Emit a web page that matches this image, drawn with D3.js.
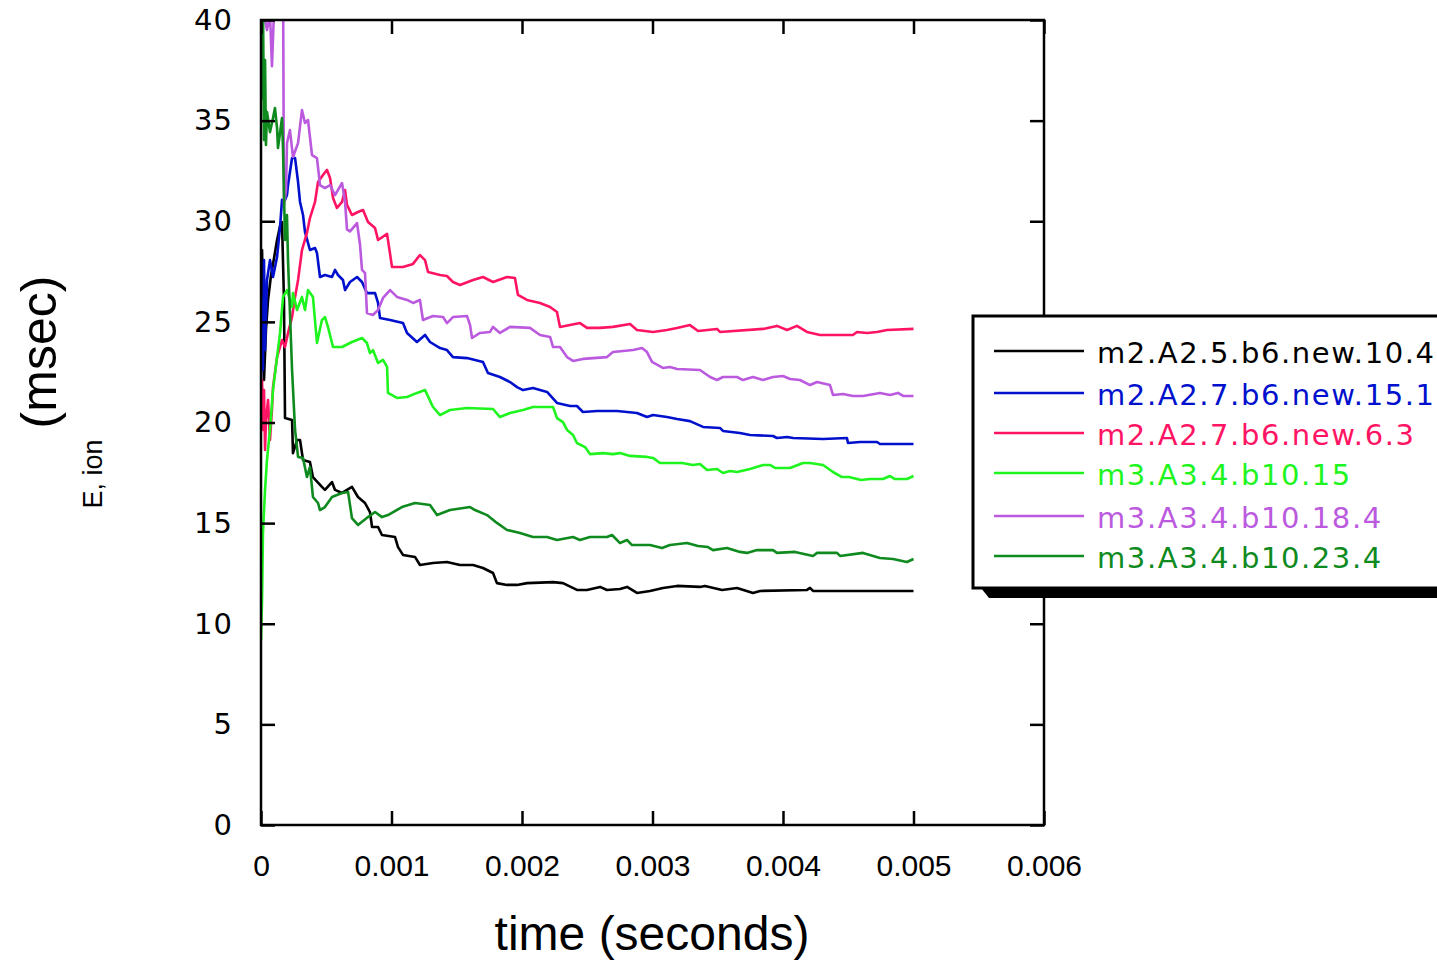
<!DOCTYPE html>
<html>
<head>
<meta charset="utf-8" />
<title>tau E, ion vs time</title>
<script src="https://cdn.jsdelivr.net/npm/d3@7"></script>
<style>
body { margin: 0; background: #fff; }
svg { display: block; }
</style>
</head>
<body>
<svg id="chart" width="1437" height="960"></svg>
<script>
// series labels and colours (legend order)
const seriesNames = ["m2.A2.5.b6.new.10.4", "m2.A2.7.b6.new.15.1", "m2.A2.7.b6.new.6.3",
	"m3.A3.4.b10.15", "m3.A3.4.b10.18.4", "m3.A3.4.b10.23.4"];
const seriesColors = ["#000000", "#0010cc", "#ff1464", "#1ef41e", "#bb5ade", "#0e8a1e"];

// x ticks are in ms here, shown as seconds
const xTicks = [0, 1, 2, 3, 4, 5, 6];
const yTicks = [0, 5, 10, 15, 20, 25, 30, 35, 40];

// [time (ms), tau (msec)]
const dataBlack = [[0,24.60],[0.008,28.57],[0.015,26.09],[0.023,22.11],[0.038,24.60],[0.054,26.09],[0.077,27.33],[0.100,28.17],[0.123,29.07],[0.146,29.76],[0.161,29.96],[0.176,26.09],[0.184,20.22],[0.238,20.12],[0.245,18.48],[0.276,19.13],[0.299,19.13],[0.322,18.14],[0.375,18.04],[0.398,17.29],[0.467,16.80],[0.490,16.65],[0.544,17.04],[0.567,16.65],[0.621,16.50],[0.697,16.80],[0.743,16.30],[0.797,16.00],[0.835,15.55],[0.851,14.81],[0.897,14.81],[0.927,14.41],[1.027,14.31],[1.050,13.81],[1.088,13.42],[1.180,13.32],[1.218,12.92],[1.318,13.02],[1.425,13.07],[1.525,12.92],[1.625,12.92],[1.701,12.77],[1.778,12.52],[1.808,12.02],[1.885,11.93],[1.962,11.93],[2.038,12.02],[2.238,12.07],[2.314,12.02],[2.421,11.68],[2.498,11.68],[2.598,11.83],[2.651,11.68],[2.751,11.73],[2.805,11.83],[2.881,11.53],[2.981,11.63],[3.080,11.78],[3.188,11.88],[3.364,11.83],[3.402,11.88],[3.533,11.68],[3.648,11.78],[3.770,11.53],[3.824,11.63],[4.184,11.68],[4.207,11.78],[4.230,11.63],[5.0,11.63]];

const dataBlue = [[0,22.11],[0.008,26.09],[0.015,22.61],[0.023,28.07],[0.031,23.60],[0.046,27.08],[0.069,28.07],[0.092,27.23],[0.123,28.22],[0.146,29.71],[0.161,31.06],[0.184,31.06],[0.199,31.30],[0.207,31.80],[0.238,33.14],[0.261,33.14],[0.284,31.95],[0.299,30.96],[0.322,30.31],[0.337,29.47],[0.375,28.57],[0.414,28.67],[0.429,28.42],[0.452,27.23],[0.490,27.33],[0.544,27.23],[0.567,27.58],[0.590,27.33],[0.628,27.08],[0.644,26.58],[0.682,26.98],[0.736,27.23],[0.774,26.98],[0.812,26.43],[0.874,26.43],[0.897,25.94],[0.912,25.19],[0.989,25.09],[1.088,24.94],[1.119,24.45],[1.195,24.00],[1.257,24.35],[1.295,24.00],[1.372,23.70],[1.425,23.60],[1.471,23.25],[1.579,23.20],[1.701,23.01],[1.739,22.46],[1.831,22.26],[1.908,22.01],[1.962,21.76],[2.008,21.61],[2.084,21.71],[2.192,21.52],[2.268,20.97],[2.368,20.82],[2.421,20.82],[2.467,20.52],[2.575,20.57],[2.728,20.57],[2.881,20.47],[2.958,20.27],[3.004,20.37],[3.111,20.27],[3.188,20.17],[3.287,20.07],[3.387,19.78],[3.517,19.73],[3.540,19.58],[3.670,19.48],[3.747,19.38],[3.923,19.33],[3.954,19.23],[4.031,19.28],[4.077,19.23],[4.307,19.18],[4.490,19.23],[4.498,18.98],[4.590,19.03],[4.720,19.03],[4.743,18.93],[5.0,18.93]];

const dataRed = [[0,21.12],[0.008,22.11],[0.015,19.63],[0.023,21.61],[0.031,18.63],[0.038,20.12],[0.054,21.12],[0.069,19.13],[0.084,20.62],[0.092,21.76],[0.123,23.25],[0.161,24.10],[0.184,23.75],[0.207,24.45],[0.238,25.24],[0.261,26.24],[0.284,27.08],[0.314,28.57],[0.352,29.42],[0.375,30.16],[0.414,30.96],[0.437,31.95],[0.475,32.30],[0.506,32.55],[0.529,32.15],[0.552,31.16],[0.582,30.66],[0.621,30.96],[0.644,31.55],[0.659,30.81],[0.697,30.31],[0.743,30.46],[0.782,30.56],[0.820,29.96],[0.874,29.66],[0.897,29.07],[0.966,29.37],[1.004,27.73],[1.088,27.73],[1.165,27.88],[1.218,28.32],[1.257,28.07],[1.280,27.48],[1.372,27.33],[1.425,27.28],[1.471,26.98],[1.525,26.83],[1.625,27.08],[1.701,27.23],[1.778,26.98],[1.885,27.23],[1.946,27.18],[1.969,26.34],[2.038,26.09],[2.138,25.94],[2.215,25.74],[2.268,25.49],[2.291,24.75],[2.444,24.94],[2.498,24.70],[2.598,24.70],[2.697,24.75],[2.828,24.89],[2.881,24.60],[3.004,24.50],[3.111,24.60],[3.188,24.70],[3.287,24.84],[3.349,24.55],[3.494,24.65],[3.517,24.50],[3.847,24.65],[3.954,24.80],[4.031,24.60],[4.107,24.80],[4.184,24.50],[4.284,24.35],[4.536,24.35],[4.567,24.50],[4.644,24.45],[4.720,24.50],[4.797,24.60],[5.0,24.65]];

const dataLime = [[0,9.19],[0.008,11.18],[0.015,14.51],[0.031,16.65],[0.046,18.14],[0.069,19.63],[0.092,21.61],[0.123,23.25],[0.146,24.45],[0.169,26.24],[0.199,26.58],[0.238,25.74],[0.245,26.43],[0.276,25.59],[0.314,26.24],[0.337,25.59],[0.360,26.58],[0.398,26.24],[0.429,23.95],[0.467,25.09],[0.490,25.24],[0.513,24.75],[0.552,23.75],[0.621,23.75],[0.697,24.00],[0.774,24.20],[0.812,23.95],[0.835,23.45],[0.858,23.60],[0.897,22.96],[0.935,23.11],[0.966,22.76],[0.973,21.47],[1.042,21.22],[1.119,21.27],[1.195,21.47],[1.257,21.61],[1.318,20.77],[1.372,20.37],[1.448,20.62],[1.579,20.72],[1.778,20.67],[1.831,20.27],[1.908,20.47],[2.008,20.62],[2.084,20.77],[2.238,20.77],[2.268,20.22],[2.314,20.02],[2.345,19.63],[2.391,19.38],[2.421,18.98],[2.483,18.78],[2.521,18.43],[2.621,18.48],[2.697,18.43],[2.751,18.48],[2.828,18.34],[2.958,18.29],[3.004,18.24],[3.057,17.99],[3.226,17.99],[3.310,17.89],[3.364,17.94],[3.418,17.64],[3.494,17.69],[3.540,17.49],[3.594,17.59],[3.648,17.54],[3.747,17.69],[3.847,17.89],[3.900,17.89],[3.939,17.74],[4.054,17.74],[4.153,17.99],[4.207,17.99],[4.307,17.89],[4.383,17.54],[4.452,17.29],[4.506,17.29],[4.598,17.14],[4.667,17.19],[4.766,17.19],[4.820,17.34],[4.858,17.19],[4.950,17.19],[5.0,17.34]];

const dataPurple = [[0,42],[0.031,40],[0.046,39.5],[0.069,40.3],[0.084,37.7],[0.100,40.5],[0.169,42],[0.176,30.81],[0.192,31.55],[0.199,33.89],[0.222,34.53],[0.245,33.19],[0.284,33.89],[0.314,35.53],[0.337,34.88],[0.360,35.03],[0.391,33.29],[0.429,33.14],[0.452,31.80],[0.490,31.65],[0.529,31.80],[0.567,31.30],[0.621,31.90],[0.644,30.96],[0.659,29.60],[0.682,29.50],[0.736,29.91],[0.759,28.82],[0.774,27.58],[0.797,27.43],[0.812,25.44],[0.858,25.34],[0.897,25.59],[0.935,26.19],[0.989,26.58],[1.042,26.24],[1.119,26.09],[1.165,25.94],[1.218,26.09],[1.241,25.09],[1.318,25.29],[1.395,25.24],[1.425,24.94],[1.471,25.24],[1.579,25.29],[1.602,24.84],[1.617,24.20],[1.678,24.45],[1.755,24.50],[1.778,24.75],[1.831,24.45],[1.908,24.75],[2.061,24.70],[2.138,24.35],[2.215,24.25],[2.238,23.75],[2.291,23.75],[2.345,23.25],[2.391,23.06],[2.467,23.16],[2.651,23.25],[2.697,23.50],[2.851,23.60],[2.920,23.70],[2.958,23.50],[2.996,23.01],[3.080,22.71],[3.134,22.76],[3.188,22.66],[3.364,22.61],[3.441,22.26],[3.494,22.11],[3.540,22.26],[3.648,22.26],[3.693,22.11],[3.770,22.26],[3.847,22.11],[3.923,22.26],[4.000,22.31],[4.054,22.16],[4.130,22.11],[4.207,21.86],[4.261,22.01],[4.360,21.86],[4.383,21.37],[4.460,21.42],[4.536,21.32],[4.613,21.32],[4.743,21.47],[4.820,21.37],[4.881,21.47],[4.920,21.32],[5.0,21.32]];

const dataDarkGreen = [[0,36.02],[0.008,39.01],[0.015,41],[0.023,34.04],[0.031,38.01],[0.038,33.79],[0.046,35.43],[0.069,34.43],[0.092,35.13],[0.107,35.63],[0.123,34.63],[0.130,33.64],[0.161,35.13],[0.169,33.54],[0.184,29.07],[0.199,30.31],[0.207,28.07],[0.238,22.61],[0.261,19.63],[0.284,18.29],[0.322,18.24],[0.352,17.29],[0.375,17.79],[0.398,16.30],[0.437,16.00],[0.452,15.65],[0.490,15.80],[0.544,16.30],[0.621,16.50],[0.667,16.55],[0.697,15.25],[0.743,14.91],[0.820,15.30],[0.874,15.55],[0.927,15.30],[0.973,15.40],[1.080,15.80],[1.180,16.00],[1.295,15.90],[1.349,15.40],[1.448,15.65],[1.602,15.80],[1.640,15.65],[1.732,15.40],[1.808,15.01],[1.885,14.66],[1.985,14.51],[2.084,14.31],[2.192,14.31],[2.268,14.16],[2.391,14.31],[2.444,14.16],[2.521,14.31],[2.651,14.31],[2.690,14.41],[2.751,14.01],[2.805,14.16],[2.843,13.91],[2.981,13.91],[3.073,13.76],[3.134,13.91],[3.264,14.01],[3.349,13.86],[3.425,13.81],[3.464,13.66],[3.571,13.76],[3.670,13.57],[3.724,13.52],[3.801,13.66],[3.923,13.66],[3.954,13.52],[4.092,13.57],[4.230,13.37],[4.261,13.52],[4.414,13.52],[4.437,13.37],[4.613,13.52],[4.743,13.27],[4.843,13.22],[4.950,13.07],[5.0,13.22]];

const allSeries = [dataBlack, dataBlue, dataRed, dataLime, dataPurple, dataDarkGreen];

const svg = d3.select("#chart");
const plotLeft = 261, plotRight = 1044, plotTop = 20, plotBottom = 825;
const tickLen = 14;

let x = d3.scaleLinear().domain([0, 6]).range([plotLeft, plotRight]);
let y = d3.scaleLinear().domain([0, 40]).range([plotBottom, plotTop]);

svg.append("rect").attr("width", 1437).attr("height", 960).attr("fill", "#fff");

// clip lines to the plot box
svg.append("clipPath").attr("id", "plotclip")
	.append("rect")
	.attr("x", plotLeft).attr("y", plotTop)
	.attr("width", plotRight - plotLeft).attr("height", plotBottom - plotTop);

let line = d3.line()
	.x(d => x(d[0]))
	.y(d => y(d[1]));

svg.append("g")
	.attr("clip-path", "url(#plotclip)")
	.selectAll("path")
	.data(allSeries)
	.enter()
	.append("path")
		.attr("d", line)
		.attr("fill", "none")
		.attr("stroke", (d, i) => seriesColors[i])
		.attr("stroke-width", 2.6)
		.attr("stroke-linejoin", "round");

// axes: ticks point inward on all four sides
function styleAxis(g) {
	g.select(".domain").remove();
	g.selectAll(".tick line").attr("stroke", "#000").attr("stroke-width", 2.5);
}

svg.append("g")
	.attr("transform", `translate(0,${plotBottom})`)
	.call(d3.axisBottom(x).tickValues(xTicks).tickSize(-tickLen).tickSizeOuter(0).tickPadding(30)
		.tickFormat(d => String(d / 1000)))
	.call(styleAxis)
	.selectAll("text")
		.attr("font-family", "'Liberation Sans', Arial, sans-serif")
		.attr("font-size", 30)
		.attr("fill", "#000");

svg.append("g")
	.attr("transform", `translate(${plotLeft},0)`)
	.call(d3.axisLeft(y).tickValues(yTicks).tickSize(-tickLen).tickSizeOuter(0).tickPadding(28))
	.call(styleAxis)
	.selectAll("text")
		.attr("font-family", "'DejaVu Sans', sans-serif")
		.attr("font-size", 29)
		.attr("letter-spacing", 1)
		.attr("fill", "#000");

svg.append("g")
	.attr("transform", `translate(0,${plotTop})`)
	.call(d3.axisTop(x).tickValues(xTicks).tickSize(-tickLen).tickSizeOuter(0).tickFormat(""))
	.call(styleAxis);

svg.append("g")
	.attr("transform", `translate(${plotRight},0)`)
	.call(d3.axisRight(y).tickValues(yTicks).tickSize(-tickLen).tickSizeOuter(0).tickFormat(""))
	.call(styleAxis);

svg.append("rect")
	.attr("x", plotLeft).attr("y", plotTop)
	.attr("width", plotRight - plotLeft).attr("height", plotBottom - plotTop)
	.attr("fill", "none")
	.attr("stroke", "#000")
	.attr("stroke-width", 2.5);

// axis titles
svg.append("text")
	.attr("x", 652).attr("y", 950)
	.attr("text-anchor", "middle")
	.attr("font-family", "'Liberation Sans', Arial, sans-serif")
	.attr("font-size", 48)
	.text("time (seconds)");

svg.append("text")
	.attr("transform", "translate(56,352) rotate(-90)")
	.attr("text-anchor", "middle")
	.attr("font-family", "'Liberation Sans', Arial, sans-serif")
	.attr("font-size", 50)
	.text("(msec)");

svg.append("text")
	.attr("transform", "translate(102,474) rotate(-90)")
	.attr("text-anchor", "middle")
	.attr("font-family", "'Liberation Sans', Arial, sans-serif")
	.attr("font-size", 27)
	.text("E, ion");

// legend box with drop shadow, runs off the right edge
const lg = svg.append("g");
lg.append("path")
	.attr("d", "M981,588 L1460,588 L1460,598 L989,598 Z")
	.attr("fill", "#000");
lg.append("rect")
	.attr("x", 973).attr("y", 316)
	.attr("width", 500).attr("height", 272)
	.attr("fill", "#fff")
	.attr("stroke", "#000")
	.attr("stroke-width", 3);

const legendY = [351, 393, 433, 473, 516, 556];
let items = lg.selectAll(".item")
	.data(seriesNames)
	.enter()
	.append("g")
		.attr("class", "item")
		.attr("transform", (d, i) => `translate(0,${legendY[i]})`);
items.append("line")
	.attr("x1", 994).attr("x2", 1084)
	.attr("stroke", (d, i) => seriesColors[i])
	.attr("stroke-width", 2.6);
items.append("text")
	.attr("x", 1097).attr("y", 12)
	.attr("font-family", "'DejaVu Sans', sans-serif")
	.attr("font-size", 29)
	.attr("letter-spacing", 1.6)
	.attr("fill", (d, i) => seriesColors[i])
	.text(d => d);
</script>
</body>
</html>
